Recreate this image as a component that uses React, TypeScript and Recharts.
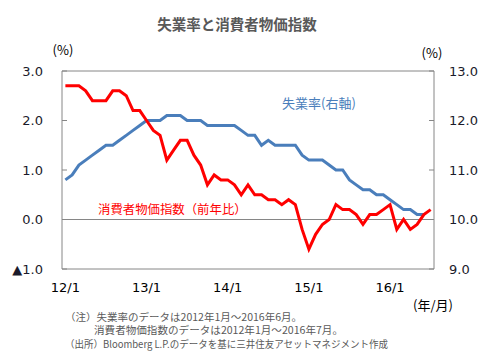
import { LineChart, Line, XAxis, YAxis, ReferenceLine } from 'recharts'

// 月ラベル（2012年1月〜2016年7月）
const months = [
  '12/1', '12/2', '12/3', '12/4', '12/5', '12/6', '12/7', '12/8', '12/9', '12/10', '12/11', '12/12',
  '13/1', '13/2', '13/3', '13/4', '13/5', '13/6', '13/7', '13/8', '13/9', '13/10', '13/11', '13/12',
  '14/1', '14/2', '14/3', '14/4', '14/5', '14/6', '14/7', '14/8', '14/9', '14/10', '14/11', '14/12',
  '15/1', '15/2', '15/3', '15/4', '15/5', '15/6', '15/7', '15/8', '15/9', '15/10', '15/11', '15/12',
  '16/1', '16/2', '16/3', '16/4', '16/5', '16/6', '16/7',
]

// 消費者物価指数（前年比, %）左軸
const cpi = [
  2.7, 2.7, 2.7, 2.6, 2.4, 2.4, 2.4, 2.6, 2.6, 2.5, 2.2, 2.2,
  2.0, 1.8, 1.7, 1.2, 1.4, 1.6, 1.6, 1.3, 1.1, 0.7, 0.9, 0.8,
  0.8, 0.7, 0.5, 0.7, 0.5, 0.5, 0.4, 0.4, 0.3, 0.4, 0.3, -0.2,
  -0.6, -0.3, -0.1, 0.0, 0.3, 0.2, 0.2, 0.1, -0.1, 0.1, 0.1, 0.2,
  0.3, -0.2, 0.0, -0.2, -0.1, 0.1, 0.2,
]

// 失業率（%）右軸、2016年6月まで
const unemployment = [
  10.8, 10.9, 11.1, 11.2, 11.3, 11.4, 11.5, 11.5, 11.6, 11.7, 11.8, 11.9,
  12.0, 12.0, 12.0, 12.1, 12.1, 12.1, 12.0, 12.0, 12.0, 11.9, 11.9, 11.9,
  11.9, 11.9, 11.8, 11.7, 11.7, 11.5, 11.6, 11.5, 11.5, 11.5, 11.5, 11.3,
  11.2, 11.2, 11.2, 11.1, 11.0, 11.0, 10.8, 10.7, 10.6, 10.6, 10.5, 10.5,
  10.4, 10.3, 10.2, 10.2, 10.1, 10.1,
]

const xTicks = ['12/1', '13/1', '14/1', '15/1', '16/1']
const leftTicks = [-1, 0, 1, 2, 3]
const rightTicks = [9, 10, 11, 12, 13]

const data = months.map((m, i) => ({
  month: m,
  cpi: cpi[i],
  unemp: i < unemployment.length ? unemployment[i] : null,
}))

const JP = '"Noto Sans CJK JP", "Noto Sans", sans-serif'
const NUM = '"DejaVu Sans", Verdana, sans-serif'
const BORDER = '#868686'
const TICK_COLOR = '#1a1a2a'

const LeftTick = ({ x, y, payload }: any) => {
  const v = payload.value as number
  const label = v < 0 ? `▲${Math.abs(v).toFixed(1)}` : v.toFixed(1)
  return (
    <g>
      <line x1={x} x2={x + 5} y1={y} y2={y} stroke={BORDER} />
      <text x={x - 19} y={y} dy="0.36em" textAnchor="end" fontFamily={NUM} fontSize={13} fill={TICK_COLOR}>
        {label}
      </text>
    </g>
  )
}

const RightTick = ({ x, y, payload }: any) => {
  const v = payload.value as number
  return (
    <g>
      <line x1={x - 5} x2={x} y1={y} y2={y} stroke={BORDER} />
      <text x={x + 15} y={y} dy="0.36em" textAnchor="start" fontFamily={NUM} fontSize={13} fill={TICK_COLOR}>
        {v.toFixed(1)}
      </text>
    </g>
  )
}

export default function App() {
  return (
    <div style={{ position: 'relative', width: 498, height: 357, background: '#fff' }}>
      <style>{'body{margin:0}'}</style>
      <LineChart width={498} height={357} data={data} margin={{ top: 71, right: 0, bottom: 58, left: 0 }}>
        <XAxis
          dataKey="month"
          scale="band"
          ticks={xTicks}
          interval={0}
          axisLine={false}
          tickLine={false}
          tickSize={0}
          tickMargin={14}
          height={30}
          tick={{ fontFamily: NUM, fontSize: 13, fill: '#000' }}
        />
        <YAxis
          yAxisId="l"
          domain={[-1, 3]}
          ticks={leftTicks}
          interval={0}
          width={62}
          tickSize={0}
          tickMargin={0}
          tickLine={false}
          axisLine={{ stroke: BORDER }}
          tick={<LeftTick />}
        />
        <YAxis
          yAxisId="r"
          orientation="right"
          domain={[9, 13]}
          ticks={rightTicks}
          interval={0}
          width={64}
          tickSize={0}
          tickMargin={0}
          tickLine={false}
          axisLine={{ stroke: BORDER }}
          tick={<RightTick />}
        />
        <ReferenceLine yAxisId="l" y={3} stroke={BORDER} />
        <ReferenceLine yAxisId="l" y={-1} stroke={BORDER} />
        <ReferenceLine yAxisId="l" y={0} stroke={BORDER} />
        <Line
          yAxisId="r"
          dataKey="unemp"
          type="linear"
          stroke="#4a7ebb"
          strokeWidth={3}
          dot={false}
          isAnimationActive={false}
        />
        <Line
          yAxisId="l"
          dataKey="cpi"
          type="linear"
          stroke="#ff0000"
          strokeWidth={3}
          dot={false}
          isAnimationActive={false}
        />
      </LineChart>
      <svg width={498} height={357} style={{ position: 'absolute', left: 0, top: 0, pointerEvents: 'none' }}>
        <text x={237} y={25} dy="0.35em" textAnchor="middle" fontFamily={JP} fontWeight="bold" fontSize={14.5} fill="#595959">
          失業率と消費者物価指数
        </text>
        <text x={63} y={50} dy="0.35em" textAnchor="middle" fontFamily={JP} fontSize={13} fill="#000">(%)</text>
        <text x={432} y={53} dy="0.35em" textAnchor="middle" fontFamily={JP} fontSize={13} fill="#000">(%)</text>
        <text x={282} y={103} dy="0.35em" fontFamily={JP} fontSize={13} fill="#4a7ebb">失業率(右軸)</text>
        <text x={98} y={210} dy="0.35em" fontFamily={JP} fontSize={12.4} fill="#ff0000">消費者物価指数（前年比）</text>
        <text x={433} y={305} dy="0.35em" textAnchor="middle" fontFamily={JP} fontSize={13} fill="#000">(年/月)</text>
        <text x={65} y={317} dy="0.35em" fontFamily={JP} fontSize={10} fill="#595959" textLength={237} lengthAdjust="spacingAndGlyphs">（注）失業率のデータは2012年1月～2016年6月。</text>
        <text x={94} y={330.5} dy="0.35em" fontFamily={JP} fontSize={10} fill="#595959" textLength={249} lengthAdjust="spacingAndGlyphs">消費者物価指数のデータは2012年1月～2016年7月。</text>
        <text x={65} y={344} dy="0.35em" fontFamily={JP} fontSize={10} fill="#595959" textLength={323} lengthAdjust="spacingAndGlyphs">（出所）Bloomberg L.P.のデータを基に三井住友アセットマネジメント作成</text>
      </svg>
    </div>
  )
}
